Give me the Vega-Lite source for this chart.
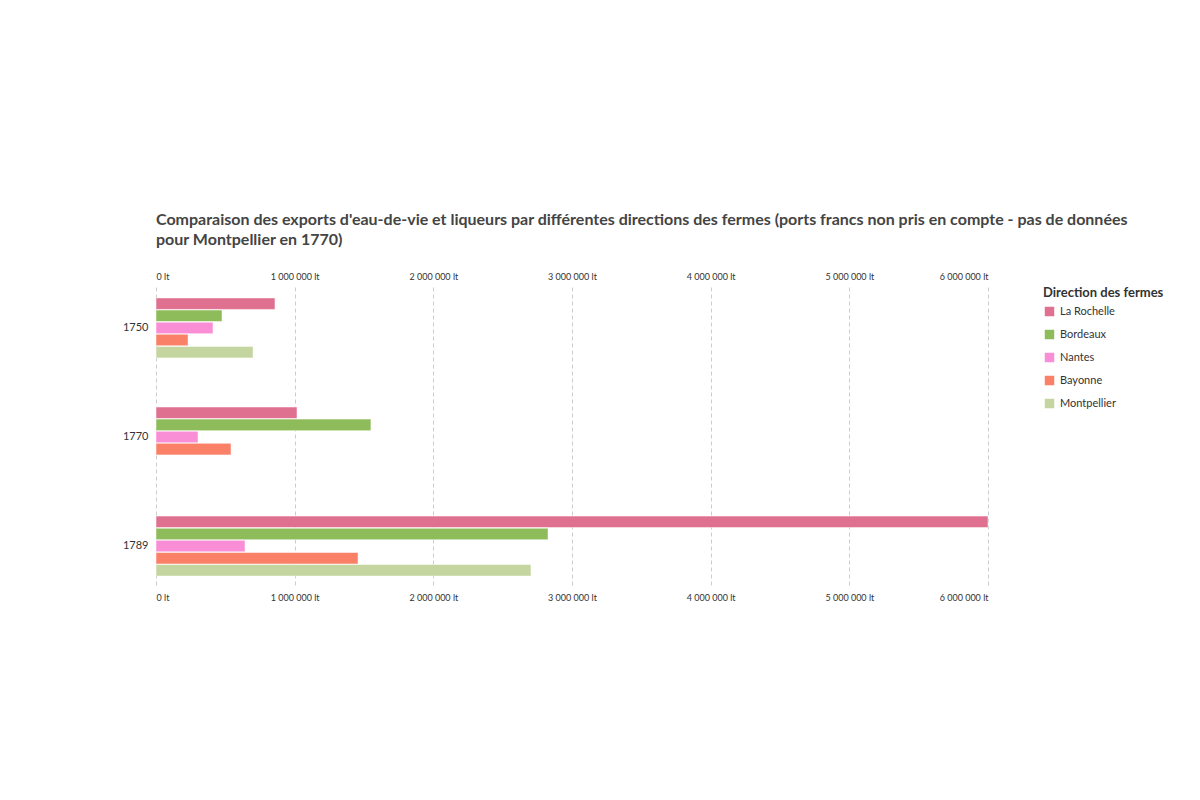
{
"$schema":"https://vega.github.io/schema/vega-lite/v6.json",
"width":832,"height":300,
"padding":{"left":122,"top":212,"right":10,"bottom":10},
"config":{"font":"Lato","view":{"stroke":null}},
"title":{"text":["Comparaison des exports d'eau-de-vie et liqueurs par différentes directions des fermes (ports francs non pris en compte - pas de données","pour Montpellier en 1770)"],"anchor":"start","fontSize":16,"fontWeight":"bold","color":"#444","offset":24,"lineHeight":20,"frame":"group"},
"data":{"values":[
{"annee":"1750","dir":"La Rochelle","v":858000},
{"annee":"1750","dir":"Bordeaux","v":476000},
{"annee":"1750","dir":"Nantes","v":411000},
{"annee":"1750","dir":"Bayonne","v":231000},
{"annee":"1750","dir":"Montpellier","v":700000},
{"annee":"1770","dir":"La Rochelle","v":1017000},
{"annee":"1770","dir":"Bordeaux","v":1550000},
{"annee":"1770","dir":"Nantes","v":303000},
{"annee":"1770","dir":"Bayonne","v":541000},
{"annee":"1789","dir":"La Rochelle","v":6000000},
{"annee":"1789","dir":"Bordeaux","v":2827000},
{"annee":"1789","dir":"Nantes","v":642000},
{"annee":"1789","dir":"Bayonne","v":1457000},
{"annee":"1789","dir":"Montpellier","v":2704000}
]},
"encoding":{
"y":{"field":"annee","type":"nominal","title":null,"scale":{"paddingInner":0.45,"paddingOuter":0.1},"axis":{"domain":false,"ticks":false,"labelFontSize":11,"labelColor":"#333","labelPadding":8}},
"yOffset":{"field":"dir","sort":["La Rochelle","Bordeaux","Nantes","Bayonne","Montpellier"],"scale":{"paddingInner":0.05}}
},
"layer":[
{"mark":{"type":"bar","stroke":"white","strokeWidth":0.5},
"encoding":{
"x":{"field":"v","type":"quantitative","title":null,"scale":{"domain":[0,6000000],"nice":false},"axis":{"orient":"top","values":[0,1000000,2000000,3000000,4000000,5000000,6000000],"labelExpr":"replace(format(datum.value, ','), regexp(',', 'g'), ' ') + ' lt'","domain":false,"ticks":false,"gridDash":[4,3],"gridColor":"#ccc","labelFontSize":9,"labelColor":"#333","labelPadding":6}},
"color":{"field":"dir","type":"nominal","sort":["La Rochelle","Bordeaux","Nantes","Bayonne","Montpellier"],"scale":{"domain":["La Rochelle","Bordeaux","Nantes","Bayonne","Montpellier"],"range":["#e07090","#8fbc5a","#fa8ed6","#fa8068","#c5d5a0"]},"legend":{"title":"Direction des fermes","titleFontSize":13,"titleColor":"#333","labelFontSize":11,"labelColor":"#333","symbolType":"square","symbolSize":120,"rowPadding":6,"offset":55,"orient":"right"}}
}},
{"mark":{"type":"bar","opacity":0},
"encoding":{
"x":{"field":"v","type":"quantitative","title":null,"scale":{"domain":[0,6000000],"nice":false},"axis":{"orient":"bottom","values":[0,1000000,2000000,3000000,4000000,5000000,6000000],"labelExpr":"replace(format(datum.value, ','), regexp(',', 'g'), ' ') + ' lt'","domain":false,"ticks":false,"grid":false,"labelFontSize":9,"labelColor":"#333","labelPadding":6}}
}}
],
"resolve":{"scale":{"x":"independent"}}
}
